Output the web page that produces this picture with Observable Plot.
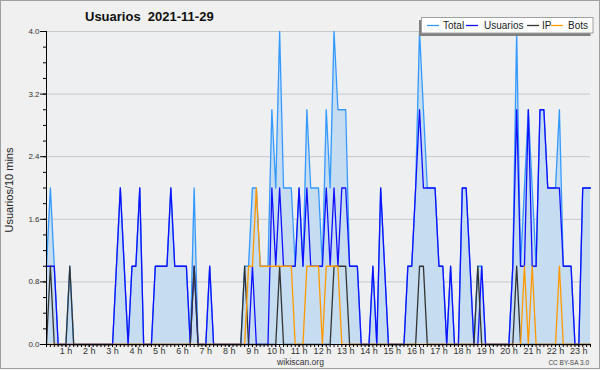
<!DOCTYPE html>
<html><head><meta charset="utf-8">
<script src="https://cdn.jsdelivr.net/npm/d3@7"></script>
<script src="https://cdn.jsdelivr.net/npm/@observablehq/plot@0.6"></script>
<style>html,body{margin:0;padding:0;background:#f0f0f0;}</style>
</head><body><div id="chart"></div>
<script>
// 10-minute slots, slot k = k*10 minutes after 00:00 (k = 1 .. 141)
const slots = d3.range(1, 142);
const usuarios = [
 1,1,1,0,0,0,0,0,0,0, 0,0,0,0,0,0,0,0,1,2, 1,0,1,1,2,0,0,0,1,1,
 1,1,2,1,1,1,1,0,1,0, 0,0,1,0,0,0,0,0,0,0, 0,0,0,1,0,0,0,0,2,1,
 2,1,1,1,1,2,1,2,1,1, 1,1,2,1,2,1,2,2,1,1, 1,0,0,0,1,0,2,1,0,0,
 0,0,0,1,1,2,3,2,2,2, 2,1,1,0,1,0,0,2,2,1, 0,0,1,0,0,0,0,0,0,0,
 1,3,1,1,3,1,1,3,3,2, 2,2,2,1,1,1,0,0,2,2, 2];
const ip = [
 0,1,0,0,0,0,1,0,0,0, 0,0,0,0,0,0,0,0,0,0, 0,0,0,0,0,0,0,0,0,0,
 0,0,0,0,0,0,0,0,1,0, 0,0,0,0,0,0,0,0,0,0, 0,1,0,0,0,0,0,0,0,0,
 1,0,0,0,0,0,0,0,0,0, 0,0,0,0,1,1,1,1,0,0, 0,0,0,0,0,0,0,0,0,0,
 0,0,0,0,0,0,1,1,0,0, 0,0,0,0,0,0,0,0,0,0, 0,1,0,0,0,0,0,0,0,0,
 0,1,0,0,0,0,0,0,0,0, 0,0,0,0,0,0,0,0,0,0, 0];
const bots = [
 0,0,0,0,0,0,0,0,0,0, 0,0,0,0,0,0,0,0,0,0, 0,0,0,0,0,0,0,0,0,0,
 0,0,0,0,0,0,0,0,0,0, 0,0,0,0,0,0,0,0,0,0, 0,0,1,1,2,1,1,1,1,1,
 1,1,1,1,0,0,0,1,1,1, 1,0,1,1,1,1,0,0,0,0, 0,0,0,0,0,0,0,0,0,0,
 0,0,0,0,0,0,0,0,0,0, 0,0,0,0,0,0,0,0,0,0, 0,0,0,0,0,0,0,0,0,0,
 0,0,0,1,0,1,0,0,0,0, 0,0,1,0,0,0,0,0,0,0, 0];
const total = [
 1,2,1,0,0,0,1,0,0,0, 0,0,0,0,0,0,0,0,1,2, 1,0,1,1,2,0,0,0,1,1,
 1,1,2,1,1,1,1,0,2,0, 0,0,1,0,0,0,0,0,0,0, 0,1,1,2,2,1,1,1,3,2,
 4,2,2,2,1,2,1,3,2,2, 2,1,3,2,4,3,3,3,1,1, 1,0,0,0,1,0,2,1,0,0,
 0,0,0,1,1,2,4,3,2,2, 2,1,1,0,1,0,0,2,2,1, 0,1,1,0,0,0,0,0,0,0,
 1,4,1,2,3,2,1,3,3,2, 2,2,3,1,1,1,0,0,2,2, 2];
const yMajor = [0, 0.8, 1.6, 2.4, 3.2, 4.0];
const yMinor = d3.range(0, 21).map(i => i * 0.2);
const hourLabels = d3.range(1, 24); // "1 h" .. "23 h"
const seriesNames = ["Total", "Usuarios", "IP", "Bots"];
const seriesColors = ["#3399ff", "#1010ff", "#333333", "#ff9900"];

const rows = slots.map((k, i) => ({k, total: total[i], usuarios: usuarios[i], ip: ip[i], bots: bots[i]}));

const chart = Plot.plot({
  width: 600, height: 370,
  marginLeft: 46, marginRight: 10, marginTop: 31, marginBottom: 26,
  style: {background: "#f0f0f0", fontFamily: "'Liberation Sans', Arial, sans-serif", overflow: "visible"},
  x: {domain: [1, 141], axis: null},
  y: {domain: [0, 4], axis: null},
  marks: [
    Plot.frame({fill: "#eeeff1", stroke: null}),
    Plot.gridY(yMajor, {stroke: "#c8c8c8", strokeOpacity: 1}),
    Plot.areaY(rows, {x: "k", y: "total", fill: "#c6ddf1"}),
    Plot.lineY(rows, {x: "k", y: "total", stroke: seriesColors[0], strokeWidth: 1.3}),
    Plot.lineY(rows, {x: "k", y: "usuarios", stroke: seriesColors[1], strokeWidth: 1.3}),
    Plot.lineY(rows, {x: "k", y: "ip", stroke: seriesColors[2], strokeWidth: 1.3}),
    Plot.lineY(rows, {x: "k", y: "bots", stroke: seriesColors[3], strokeWidth: 1.3}),
    Plot.axisY(yMinor, {tickSize: 3, tickFormat: () => "", label: null, stroke: "black"}),
    Plot.axisY(yMajor, {tickSize: 6, tickPadding: 1, tickFormat: d3.format(".1f"), label: null, fontSize: 8, fill: "#333", stroke: "black"}),
    Plot.axisX(slots, {tickSize: 3, tickFormat: () => "", label: null, stroke: "black"}),
    Plot.axisX(hourLabels.map(h => h * 6), {tickSize: 3, tickPadding: 0, tickFormat: d => `${d / 6} h`, label: null, fontSize: 9, fill: "#333", stroke: "black"}),
    Plot.ruleX([1], {stroke: "black"}),
    Plot.ruleY([0], {stroke: "black"})
  ]
});
document.getElementById("chart").append(chart);

const svg = d3.select(chart);
// border
svg.append("rect").attr("x", 0.5).attr("y", 0.5).attr("width", 599).attr("height", 368)
  .attr("fill", "none").attr("stroke", "#a0a0a0");
// title
svg.append("text").attr("x", 85).attr("y", 21).attr("text-anchor", "start").attr("font-size", 13).attr("font-weight", "bold")
  .attr("fill", "#111").style("white-space", "pre").text("Usuarios  2021-11-29");
// y label
svg.append("text").attr("transform", "translate(13,190) rotate(-90)").attr("text-anchor", "middle")
  .attr("font-size", 11).attr("fill", "#222").text("Usuarios/10 mins");
// footer
svg.append("text").attr("x", 300.5).attr("y", 365).attr("text-anchor", "middle")
  .attr("font-size", 8.5).attr("fill", "#333").text("wikiscan.org");
svg.append("text").attr("x", 589).attr("y", 365).attr("text-anchor", "end")
  .attr("font-size", 6.5).attr("fill", "#444").text("CC BY-SA 3.0");
// legend
const lg = svg.append("g");
lg.append("rect").attr("x", 419).attr("y", 20).attr("width", 171.5).attr("height", 16).attr("fill", "#808080");
lg.append("rect").attr("x", 421.5).attr("y", 17.5).attr("width", 171.5).attr("height", 15.5)
  .attr("fill", "white").attr("stroke", "#a0a0a0");
const legendPos = [[427, 443], [466, 484], [527, 542], [551, 568]];
seriesNames.forEach((name, i) => {
  const [lx, tx] = legendPos[i];
  lg.append("line").attr("x1", lx).attr("x2", lx + 12).attr("y1", 25.5).attr("y2", 25.5)
    .attr("stroke", seriesColors[i]).attr("stroke-width", 1.3);
  lg.append("text").attr("x", tx).attr("y", 29).attr("text-anchor", "start").attr("font-size", 10).attr("fill", "#222").text(name);
});
</script></body></html>
